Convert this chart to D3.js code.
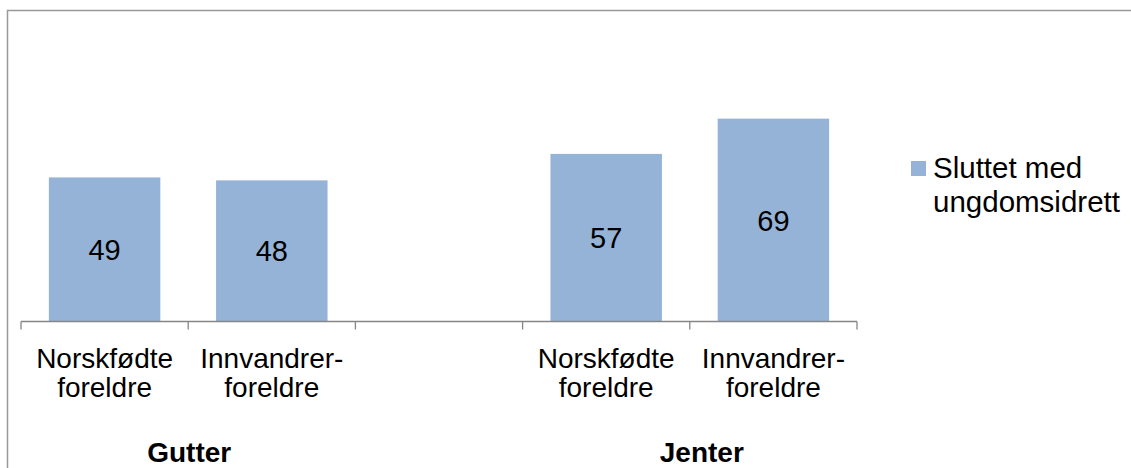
<!DOCTYPE html>
<html>
<head>
<meta charset="utf-8">
<script src="https://cdn.jsdelivr.net/npm/d3@7"></script>
<style>
  html, body { margin: 0; padding: 0; background: #fff; }
  svg { display: block; font-family: "Liberation Sans", Arial, sans-serif; }
</style>
</head>
<body>
<svg id="chart" width="1131" height="468"></svg>
<script>
// Category slots (third slot is an empty spacer between the two groups)
const slotIds    = ["g1", "g2", "gap", "j1", "j2"];
const labelLines = [["Norskfødte", "foreldre"], ["Innvandrer-", "foreldre"], [], ["Norskfødte", "foreldre"], ["Innvandrer-", "foreldre"]];
const values     = [49, 48, null, 57, 69];
const groupNames = ["Gutter", "Jenter"];
const groupSlots = [["g1", "g2"], ["j1", "j2"]];
const seriesName = ["Sluttet med", "ungdomsidrett"];

const svg = d3.select("#chart");
const barColor = "#95B3D7";
const axisColor = "#868686";

// Outer chart frame
svg.append("rect")
  .attr("x", 7.5).attr("y", 10.5)
  .attr("width", 1200).attr("height", 600)
  .attr("fill", "none").attr("stroke", "#999").attr("stroke-width", 1.5);

const x = d3.scaleBand().domain(slotIds).range([21, 857]).padding(0);
const y = d3.scaleLinear().domain([0, 80]).range([321.5, 86.3]);

const bw = x.bandwidth();
const barW = bw * 2 / 3;

const rows = slotIds.map((id, i) => ({ id, value: values[i], lines: labelLines[i] }));
const barRows = rows.filter(d => d.value != null);

// Bars
svg.append("g").selectAll("rect")
  .data(barRows).join("rect")
  .attr("x", d => x(d.id) + (bw - barW) / 2)
  .attr("width", barW)
  .attr("y", d => y(d.value))
  .attr("height", d => y(0) - y(d.value))
  .attr("fill", barColor);

// Value labels centred inside the bars
svg.append("g").selectAll("text")
  .data(barRows).join("text")
  .attr("x", d => x(d.id) + bw / 2)
  .attr("y", d => (y(d.value) + y(0)) / 2)
  .attr("dy", "0.36em")
  .attr("text-anchor", "middle")
  .attr("font-size", 29)
  .attr("fill", "#000")
  .text(d => d.value);

// Category axis: baseline with tick marks at slot boundaries
const axis = svg.append("g").attr("stroke", axisColor).attr("stroke-width", 1.3);
axis.append("line")
  .attr("x1", x.range()[0]).attr("x2", x.range()[1])
  .attr("y1", y(0)).attr("y2", y(0));
const boundaries = slotIds.map(id => x(id)).concat([x.range()[1]]);
axis.selectAll("line.tick")
  .data(boundaries).join("line")
  .attr("class", "tick")
  .attr("x1", d => d).attr("x2", d => d)
  .attr("y1", y(0)).attr("y2", y(0) + 8);

// Category labels (two lines each)
const catG = svg.append("g").attr("font-size", 28).attr("fill", "#000").attr("text-anchor", "middle");
rows.forEach(r => {
  r.lines.forEach((line, li) => {
    catG.append("text")
      .attr("x", x(r.id) + bw / 2)
      .attr("y", 368 + li * 29)
      .text(line);
  });
});

// Group labels
const groupOffset = [1, 12];
svg.append("g").selectAll("text")
  .data(groupNames).join("text")
  .attr("x", (d, i) => d3.mean(groupSlots[i], id => x(id) + bw / 2) + groupOffset[i])
  .attr("y", 462)
  .attr("text-anchor", "middle")
  .attr("font-size", 28)
  .attr("font-weight", "bold")
  .attr("fill", "#000")
  .text(d => d);

// Legend
const legend = svg.append("g");
legend.append("rect")
  .attr("x", 911).attr("y", 161)
  .attr("width", 15).attr("height", 15)
  .attr("fill", barColor);
legend.selectAll("text")
  .data(seriesName).join("text")
  .attr("x", 933)
  .attr("y", (d, i) => 177.5 + i * 34.3)
  .attr("font-size", 29.5)
  .attr("fill", "#000")
  .text(d => d);
</script>
</body>
</html>
